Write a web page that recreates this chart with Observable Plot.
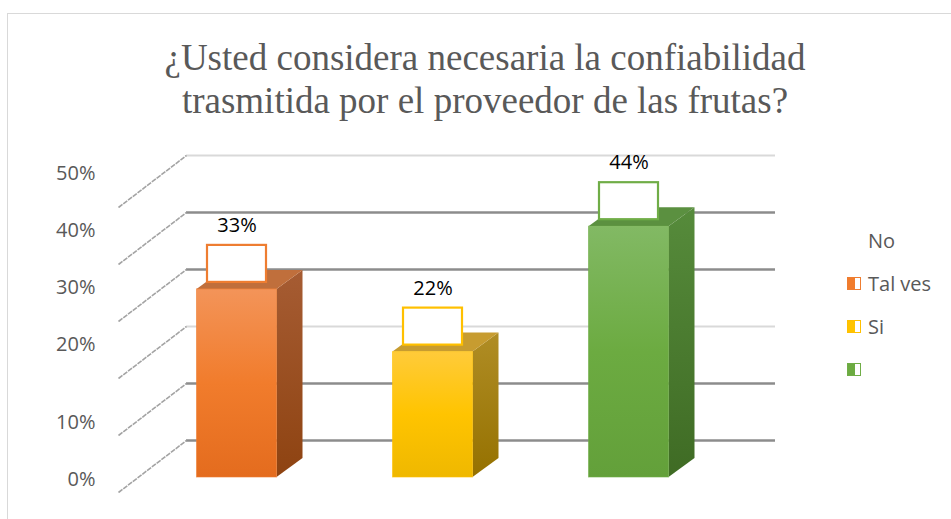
<!DOCTYPE html>
<html><head><meta charset="utf-8">
<script src="https://cdn.jsdelivr.net/npm/d3@7"></script>
<script src="https://cdn.jsdelivr.net/npm/@observablehq/plot@0.6"></script>
<style>
body{margin:0;background:#fff;}
#wrap{position:relative;width:951px;height:519px;overflow:hidden;background:#fff;}
#frame{position:absolute;left:7px;top:13px;width:960px;height:520px;border-left:1.5px solid #d9d9d9;border-top:1.5px solid #d9d9d9;}
#title{position:absolute;left:0;width:970px;top:36px;text-align:center;font-family:"Liberation Serif","Times New Roman",serif;font-size:37px;line-height:43px;color:#595959;}
#chart{position:absolute;left:0;top:0;}
.lg{position:absolute;font-family:"Open Sans",sans-serif;font-size:20px;color:#595959;line-height:24px;}
.sw{position:absolute;width:12px;height:11px;}
</style></head>
<body>
<div id="wrap">
  <div id="frame"></div>
  <div id="chart"></div>
  <div id="title">¿Usted considera necesaria la confiabilidad<br>trasmitida por el proveedor de las frutas?</div>
  <div id="legend"></div>
</div>
<script>
// ---- data ----
const categories = ["Tal ves", "Si", "No"];
const values = [0.33, 0.22, 0.44];
const valueLabels = ["33%", "22%", "44%"];
const tickValues = [0, 0.1, 0.2, 0.3, 0.4, 0.5];
const tickLabels = ["0%", "10%", "20%", "30%", "40%", "50%"];
const legendLabels = ["No", "Tal ves", "Si", ""];
const legendSeries = [null, 0, 1, 2];

// ---- styles ----
const frontStops = [
  ["#f39459", "#f17c2c", "#e46c1e"],
  ["#ffcb3a", "#ffc400", "#efb800"],
  ["#82b964", "#6cab41", "#63a03a"]
];
const sideStops = [
  ["#a65c33", "#8e4311"],
  ["#b08d25", "#957100"],
  ["#568b3b", "#3f6b24"]
];
const topColors = ["#c06f3c", "#c79c30", "#5b9040"];
const edgeColors = ["#ee7d31", "#ffc000", "#70ad47"];
const darkGrid = [0, 0.1, 0.3, 0.4];
const lightGrid = [0.2, 0.5];

const rows = categories.map((c, i) => ({cat: c, i, v: values[i], label: valueLabels[i]}));
const ticks = tickValues.map((t, k) => ({t, label: tickLabels[k]}));

// geometry (x in category-index units, y in value units)
const X0 = 236.5, XSTEP = 196;            // pixel of index 0, pixels per index
const Y0 = 477, Y50 = 192;                // pixel of 0 and 0.5
const px = 1 / XSTEP, py = 0.5 / (Y0 - Y50);
const hw = 40 * px, depX = 26 * px, depY = 19 * py;
const backLeft = (186 - X0) * px, backRight = (775 - X0) * px, frontLeft = (118 - X0) * px;
const labelX = (95 - X0) * px;
const wallDy = -37;

const marks = [];
// back wall gridlines
marks.push(Plot.ruleY(lightGrid, {y: d => d, x1: () => backLeft, x2: () => backRight, dy: wallDy, stroke: "#d9d9d9", strokeWidth: 2}));
marks.push(Plot.ruleY(darkGrid, {y: d => d, x1: () => backLeft, x2: () => backRight, dy: wallDy, stroke: "#8c8c8c", strokeWidth: 2.6}));
// side wall diagonals
marks.push(Plot.link(ticks, {x1: () => frontLeft, y1: d => d.t - 15 * py, x2: () => backLeft, y2: d => d.t - wallDy * py, stroke: "#a3a3a3", strokeWidth: 1.6, strokeDasharray: "5,1"}));
// y labels
marks.push(Plot.text(ticks.filter(d => d.t <= 0.1), {x: () => labelX, y: "t", text: "label", textAnchor: "end", dy: 2, fontSize: 20, fill: "#595959", fontFamily: "Open Sans"}));
marks.push(Plot.text(ticks.filter(d => d.t > 0.1), {x: () => labelX, y: "t", text: "label", textAnchor: "end", dy: -19, fontSize: 20, fill: "#595959", fontFamily: "Open Sans"}));

rows.forEach(r => {
  const i = r.i;
  // side face
  marks.push(Plot.area([
    {x: i + hw, lo: 0, hi: r.v},
    {x: i + hw + depX, lo: depY, hi: r.v + depY}
  ], {x1: "x", y1: "lo", y2: "hi", fill: `url(#side${i})`}));
  // top face
  marks.push(Plot.area([
    {y: r.v, xl: i - hw, xr: i + hw},
    {y: r.v + depY, xl: i - hw + depX, xr: i + hw + depX}
  ], {y1: "y", x1: "xl", x2: "xr", fill: topColors[i]}));
  // front face
  marks.push(Plot.rect([r], {x1: d => d.i - hw, x2: d => d.i + hw, y1: () => 0, y2: "v", fill: `url(#front${i})`, stroke: edgeColors[i], strokeOpacity: 0.6, strokeWidth: 1}));
  // label callout box
  marks.push(Plot.rect([r], {x1: d => d.i - 29.5 * px, x2: d => d.i + 29.5 * px, y1: d => d.v + 7 * py, y2: d => d.v + 44 * py, fill: "white", stroke: edgeColors[i], strokeWidth: 2.2}));
});
marks.push(Plot.text(rows, {x: "i", y: "v", text: "label", dy: -64, fontSize: 20, fill: "#000", fontFamily: "Open Sans"}));

const chart = Plot.plot({
  width: 951, height: 519,
  marginLeft: 0, marginRight: 0, marginTop: 0, marginBottom: 0,
  style: {background: "transparent", overflow: "visible"},
  x: {type: "linear", domain: [-1, 3], range: [X0 - XSTEP, X0 + 3 * XSTEP], axis: null},
  y: {type: "linear", domain: [0, 0.5], range: [Y0, Y50], axis: null},
  marks
});

const defs = d3.select(chart).insert("defs", ":first-child");
frontStops.forEach((s, i) => {
  const g = defs.append("linearGradient").attr("id", `front${i}`).attr("x1", 0).attr("y1", 0).attr("x2", 0).attr("y2", 1);
  s.forEach((c, k) => g.append("stop").attr("offset", k / (s.length - 1)).attr("stop-color", c));
});
sideStops.forEach((s, i) => {
  const g = defs.append("linearGradient").attr("id", `side${i}`).attr("x1", 0).attr("y1", 0).attr("x2", 0).attr("y2", 1);
  s.forEach((c, k) => g.append("stop").attr("offset", k / (s.length - 1)).attr("stop-color", c));
});
document.getElementById("chart").appendChild(chart);

// legend
const lg = document.getElementById("legend");
const rowY = [241, 284, 327, 370];
legendLabels.forEach((lab, k) => {
  const s = legendSeries[k];
  if (s !== null) {
    const sw = document.createElement("div");
    sw.className = "sw";
    sw.style.left = "847px";
    sw.style.top = (rowY[k] - 7) + "px";
    sw.style.border = `1.5px solid ${edgeColors[s]}`;
    sw.style.background = `linear-gradient(to right, ${frontStops[s][1]} 55%, #fff 55%)`;
    lg.appendChild(sw);
  }
  if (lab) {
    const t = document.createElement("div");
    t.className = "lg";
    t.textContent = lab;
    t.style.left = "868px";
    t.style.top = (rowY[k] - 12) + "px";
    lg.appendChild(t);
  }
});
</script>
</body></html>
